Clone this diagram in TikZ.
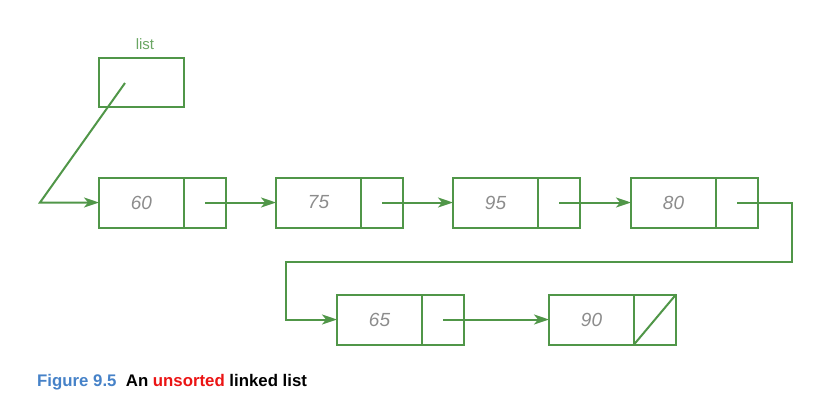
\documentclass[tikz,border=0pt]{standalone}
\usepackage{fontspec}
\setmainfont{Liberation Sans}
\usetikzlibrary{arrows.meta}
\definecolor{lgreen}{RGB}{80,150,72}
\definecolor{numgray}{RGB}{140,140,140}
\definecolor{capblue}{RGB}{70,130,200}
\definecolor{capred}{RGB}{235,20,20}
\tikzset{
  box/.style={draw=lgreen, line width=2pt, minimum height=50pt, inner sep=0pt, outer sep=0pt},
  databox/.style={box, minimum width=85pt, anchor=west, font=\fontsize{19}{19}\selectfont\itshape, text=numgray},
  ptrbox/.style={box, minimum width=42pt, anchor=west},
  link/.style={draw=lgreen, line width=2pt, -{Stealth[length=15pt,width=10pt,inset=4pt]}},
  wire/.style={draw=lgreen, line width=2pt}
}
\begin{document}
\begin{tikzpicture}[x=1pt,y=-1pt]
\useasboundingbox (0,0) rectangle (840,416);
% list head
\node[box, minimum width=85pt, minimum height=49pt] (list) at (141.5,82.5) {};
\node[text=lgreen!85, font=\fontsize{15}{15}\selectfont] (lbl) at (145,44) {list};
% row 1
\node[databox] (d60) at (99,202.5) {60};
\node[ptrbox] (p60) at (d60.east) {};
\node[databox] (d75) at (276,202.5) {75};
\node[ptrbox] (p75) at (d75.east) {};
\node[databox] (d95) at (453,202.5) {95};
\node[ptrbox] (p95) at (d95.east) {};
\node[databox] (d80) at (631,202.5) {80};
\node[ptrbox] (p80) at (d80.east) {};
% row 2
\node[databox] (d65) at (337,319.5) {65};
\node[ptrbox] (p65) at (d65.east) {};
\node[databox] (d90) at (549,319.5) {90};
\node[ptrbox] (p90) at (d90.east) {};
% connectors
\coordinate (hs) at (125,83);
\coordinate (hc) at (40,202.5);
\draw[link] (hs) -- (hc) -- (d60.west);
\draw[link] (p60.center) -- (d75.west);
\draw[link] (p75.center) -- (d95.west);
\draw[link] (p95.center) -- (d80.west);
\coordinate (r1) at (792,262);
\coordinate (l1) at (286,262);
\draw[link] (p80.center) -| (r1) -- (l1) |- (d65.west);
\draw[link] (p65.center) -- (d90.west);
\draw[wire] (p90.south west) -- (p90.north east);
% caption
\node[anchor=base west, inner sep=0pt, font=\fontsize{16.8}{16.8}\selectfont\bfseries] (cap) at (37,386)
  {\textcolor{capblue}{Figure 9.5}\ \ An \textcolor{capred}{unsorted} linked list};
\end{tikzpicture}
\end{document}
